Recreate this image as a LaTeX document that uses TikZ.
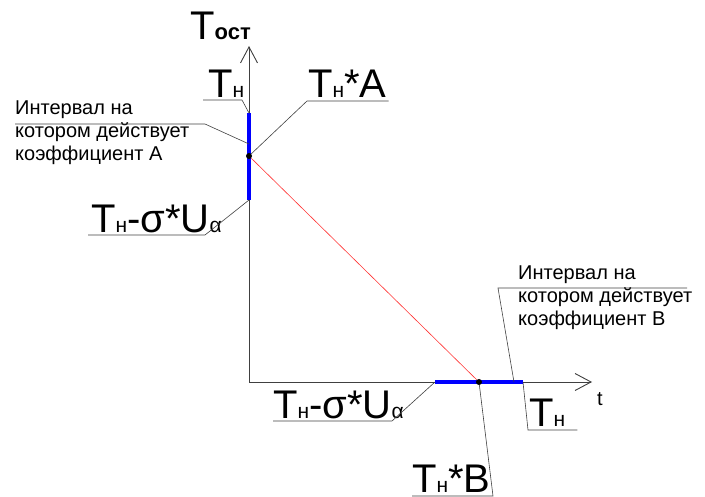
\documentclass[tikz,border=0pt]{standalone}
\usepackage{fontspec}
\setmainfont{Liberation Sans}
\usetikzlibrary{arrows.meta,calc}
\newcommand{\subs}[1]{{\fontsize{21}{21}\selectfont #1}}

\begin{document}
\begin{tikzpicture}[x=1pt,y=-1pt,
  axisln/.style={draw=black!75,line width=0.9pt,-{Straight Barb[length=16pt,width=17pt]}},
  leader/.style={draw=black!75,line width=0.6pt},
  intv/.style={draw=blue,line width=4pt},
  redln/.style={draw=red!80,line width=0.6pt},
  dot/.style={circle,fill=black,inner sep=0pt,minimum size=6pt},
  big/.style={font=\fontsize{40}{40}\selectfont,inner sep=0pt,anchor=base west},
  note/.style={font=\fontsize{20}{23}\selectfont,inner sep=0pt,anchor=base west,align=left}]
\useasboundingbox (0,0) rectangle (705,497);
% axes
\coordinate (O) at (249,382);
\coordinate (Ytop) at (249,46);
\coordinate (Xend) at (592,382);
\draw[axisln] (O) -- (Ytop);
\draw[axisln] (O) -- (Xend);
% intervals A and B
\coordinate (A1) at (249,113);
\coordinate (A2) at (249,200);
\coordinate (B1) at (435,382);
\coordinate (B2) at (523,382);
\draw[intv] (A1) -- (A2);
\draw[intv] (B1) -- (B2);
\node[dot] (dA) at (249,156) {};
\node[dot] (dB) at (479,382) {};
\draw[redln] (dA) -- (dB);
% labels
\node[big] (Tost) at (190,40) {T{\fontsize{22}{22}\selectfont\bfseries ост}};
\node[big] (TnTop) at (208,98) {T\subs{н}};
\node[big] (TnA) at (308,98) {T\subs{н}*A};
\node[big] (TnSA) at (91,233) {T\subs{н}-σ*U\subs{α}};
\node[big] (TnSB) at (273,418) {T\subs{н}-σ*U\subs{α}};
\node[big] (TnR) at (529,427) {T\subs{н}};
\node[big] (TnB) at (412,492) {T\subs{н}*B};
\node[note] (tlab) at (597,406) {t};
\node[note] (noteA) at (15,161) {Интервал на\\котором действует\\коэффициент А};
\node[note] (noteB) at (518,326) {Интервал на\\котором действует\\коэффициент В};
% leaders
\coordinate (kTn) at (242,100);
\coordinate (kTnA) at (307,101);
\coordinate (kSA) at (205,235);
\coordinate (kSB) at (392,421);
\coordinate (kR) at (528,430);
\coordinate (kB) at (493,496);
\draw[leader] (A1) -- (kTn) -- ($(TnTop.west |- kTn)+(-5,0)$);
\draw[leader] (dA) -- (kTnA) -- ($(TnA.east |- kTnA)+(2,0)$);
\draw[leader] (A2) -- (kSA) -- ($(TnSA.west |- kSA)+(-3,0)$);
\draw[leader] (B1) -- (kSB) -- (TnSB.west |- kSB);
\draw[leader] (B2) -- (kR) -- ($(TnR.east |- kR)+(12,0)$);
\draw[leader] (dB) -- (kB) -- (TnB.west |- kB);
\coordinate (uA) at (205,124);
\coordinate (cA) at (249,144);
\draw[leader] (cA) -- (uA) -- (noteA.west |- uA);
\coordinate (uB) at (498,288);
\coordinate (cB) at (514,382);
\draw[leader] (cB) -- (uB) -- ($(uB)+(189,0)$);
\end{tikzpicture}
\end{document}
